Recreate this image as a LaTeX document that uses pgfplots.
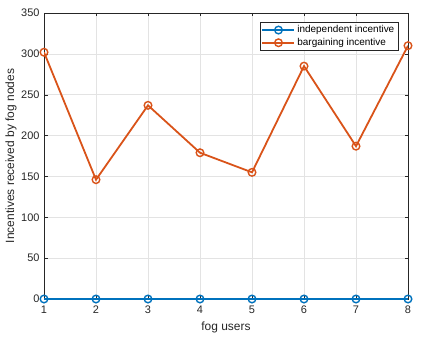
\documentclass[border=0pt]{standalone}
\usepackage{fontspec}
\setmainfont{Liberation Sans}
\usepackage{pgfplots}
\pgfplotsset{compat=1.18}

\definecolor{mblue}{rgb}{0,0.447,0.741}
\definecolor{morange}{rgb}{0.85,0.325,0.098}
\definecolor{axgray}{rgb}{0.15,0.15,0.15}

\begin{document}
\begin{tikzpicture}[x=1bp,y=1bp]
\begin{axis}[
  name=ax,
  scale only axis,
  width=364bp, height=286bp,
  xmin=1, xmax=8, ymin=0, ymax=350,
  xtick={1,...,8},
  ytick={0,50,...,350},
  grid=major,
  grid style={gray!22, line width=0.5pt},
  axis line style={axgray, line width=0.5pt},
  tick style={axgray},
  tick align=inside,
  major tick length=3.5bp,
  ticklabel style={font=\fontsize{11}{13}\selectfont, text=axgray},
  xticklabel style={yshift=-3bp},
  yticklabel style={xshift=-1bp},
  /pgf/number format/assume math mode=true,
  xlabel={fog users},
  ylabel={Incentives received by fog nodes},
  every axis x label/.style={at={(axis description cs:0.5,0)}, yshift=-28bp,
    anchor=center, font=\fontsize{12}{14}\selectfont, text=axgray},
  every axis y label/.style={at={(axis description cs:0,0.5)}, xshift=-33bp,
    rotate=90, anchor=center, font=\fontsize{12}{14}\selectfont, text=axgray},
  legend style={at={(rel axis cs:1,1)}, xshift=-10bp, yshift=-9bp,
    anchor=north east, draw=axgray,
    font=\fontsize{10}{12}\selectfont, text=black, inner sep=1.5bp,
    row sep=0bp},
  legend cell align=left,
  legend image code/.code={
    \draw[mark repeat=2, mark phase=2] plot coordinates {(0bp,0bp) (16bp,0bp) (32bp,0bp)};},
]
\addplot[mblue, line width=1.8pt, mark=o, mark size=3.8bp,
  mark options={line width=1.4pt}] coordinates {
  (1,0) (2,0) (3,0) (4,0) (5,0) (6,0) (7,0) (8,0)
};
\addlegendentry{independent incentive}
\addplot[morange, line width=1.8pt, mark=o, mark size=3.8bp,
  mark options={line width=1.4pt}] coordinates {
  (1,302) (2,146) (3,237) (4,179) (5,155) (6,285) (7,187) (8,310)
};
\addlegendentry{bargaining incentive}
\end{axis}
\path[use as bounding box] ([xshift=-44bp,yshift=-39bp]ax.south west)
  rectangle ([xshift=15bp,yshift=13bp]ax.north east);
\end{tikzpicture}
\end{document}
